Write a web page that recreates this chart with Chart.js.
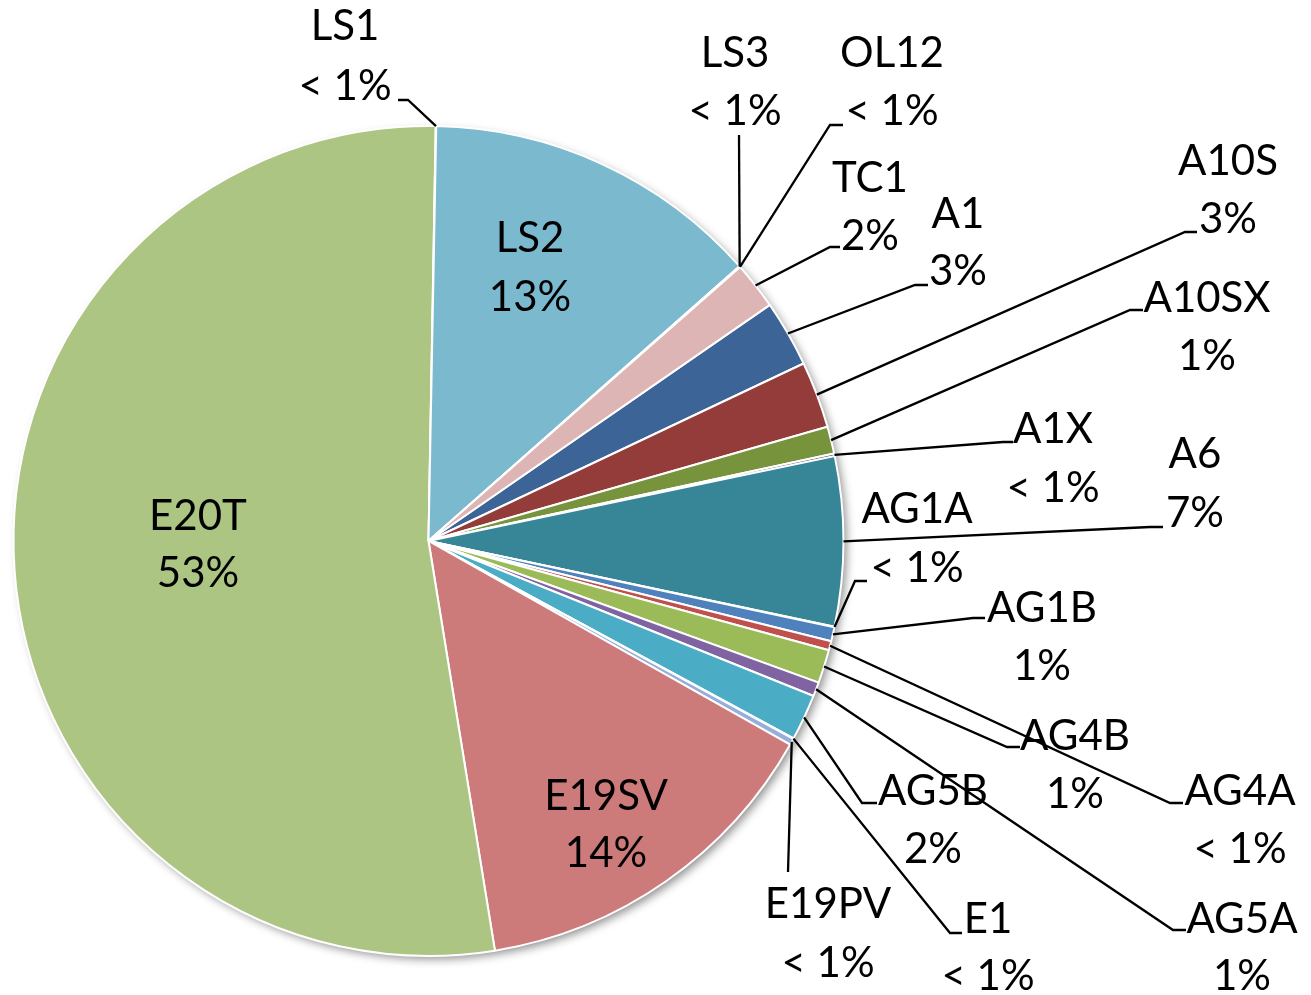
<!DOCTYPE html>
<html lang="pt">
<head>
<meta charset="utf-8">
<title>Terminais por modelo</title>
<script src="https://cdn.jsdelivr.net/npm/chart.js@4/dist/chart.umd.min.js"></script>
<style>
    html, body { margin: 0; padding: 0; background: #fff; }
    #graficoBox { width: 1311px; height: 995px; }
</style>
</head>
<body>
<div id="graficoBox"><canvas id="graficoContainer" width="1311" height="995"></canvas></div>
<script>
// Dados (em %), na ordem da planilha
const categorias = ['A1', 'A10S', 'A10SX', 'A1X', 'A6', 'AG1A', 'AG1B', 'AG4A', 'AG4B', 'AG5A',
    'AG5B', 'E1', 'E19PV', 'E19SV', 'E20T', 'LS1', 'LS2', 'LS3', 'OL12', 'TC1'];
const valores = [2.6, 2.6, 1.06, 0.1, 6.6, 0.02, 0.55, 0.36, 1.3, 0.55,
    1.8, 0.02, 0.25, 14.3, 52.9, 0.02, 13.2, 0.02, 0.02, 1.85];
const rotulosPct = ['3%', '3%', '1%', '< 1%', '7%', '< 1%', '1%', '< 1%', '1%', '1%',
    '2%', '< 1%', '< 1%', '14%', '53%', '< 1%', '13%', '< 1%', '< 1%', '2%'];

// Cores (tons escuros, normais e claros do tema)
const cores = ['#3C6496', '#943C39', '#77933C', '#604A7B', '#378697', '#B66D31', '#4F81BD', '#C0504D', '#9BBB59', '#8064A2',
    '#4BACC6', '#F79646', '#95AEDA', '#CD7B7A', '#ADC582', '#A692BE', '#7BBACE', '#F9B27C', '#B9CDE5', '#DDB5B4'];

// Posição dos rótulos: x do centro do texto, linhas de base e pontos da linha guia
const posRotulos = {
    'A1':    { x: 958,  y: [228, 285], guia: [[915, 285], [928, 285]] },
    'A10S':  { x: 1228, y: [175, 233], guia: [[1185, 232], [1197, 232]] },
    'A10SX': { x: 1207, y: [312, 370], guia: [[1130, 310], [1143, 310]] },
    'A1X':   { x: 1053, y: [443, 502], guia: [[1003, 442], [1013, 442]] },
    'A6':    { x: 1195, y: [468, 527], guia: [[1150, 527], [1163, 527]] },
    'AG1A':  { x: 917,  y: [523, 582], guia: [[855, 581], [867, 581]] },
    'AG1B':  { x: 1042, y: [622, 680], guia: [[973, 618], [985, 618]] },
    'AG4A':  { x: 1240, y: [805, 863], guia: [[1170, 803], [1183, 803]] },
    'AG4B':  { x: 1075, y: [750, 808], guia: [[1007, 747], [1020, 747]] },
    'AG5A':  { x: 1242, y: [933, 990], guia: [[1173, 930], [1186, 930]] },
    'AG5B':  { x: 933,  y: [805, 863], guia: [[862, 803], [877, 803]] },
    'E1':    { x: 988,  y: [933, 990], guia: [[950, 933], [962, 933]] },
    'E19PV': { x: 828,  y: [918, 977], guia: [[788, 872]] },
    'E19SV': { x: 606,  y: [810, 867], guia: null },
    'E20T':  { x: 198,  y: [530, 587], guia: null },
    'LS1':   { x: 345,  y: [40, 100],  guia: [[408, 100], [398, 100]] },
    'LS2':   { x: 530,  y: [252, 311], guia: null },
    'LS3':   { x: 735,  y: [67, 125],  guia: [[739, 135]] },
    'OL12':  { x: 892,  y: [67, 125],  guia: [[830, 125], [843, 125]] },
    'TC1':   { x: 870,  y: [192, 250], guia: [[830, 247], [840, 247]] }
};

document.addEventListener('DOMContentLoaded', function() {
    desenhaGrafico();
});

// Sombra suave atrás da pizza
const sombraPlugin = {
    id: 'sombra',
    beforeDatasetsDraw(chart) {
        const arco = chart.getDatasetMeta(0).data[0];
        const { x, y, outerRadius } = arco.getProps(['x', 'y', 'outerRadius'], true);
        const ctx = chart.ctx;
        ctx.save();
        ctx.shadowColor = 'rgba(0, 0, 0, 0.45)';
        ctx.shadowBlur = 10;
        ctx.shadowOffsetX = 4;
        ctx.shadowOffsetY = 4;
        ctx.fillStyle = '#fff';
        ctx.beginPath();
        ctx.arc(x, y, outerRadius - 1, 0, Math.PI * 2);
        ctx.fill();
        ctx.restore();
    }
};

// Rótulos com nome + porcentagem e linhas guia
const rotulosPlugin = {
    id: 'rotulos',
    afterDatasetsDraw(chart) {
        const ctx = chart.ctx;
        const meta = chart.getDatasetMeta(0);
        ctx.save();
        ctx.font = '42px Lato, "Open Sans", sans-serif';
        ctx.fillStyle = '#000';
        ctx.strokeStyle = '#000';
        ctx.lineWidth = 2.3;
        ctx.textAlign = 'center';
        ctx.textBaseline = 'alphabetic';
        meta.data.forEach((arco, i) => {
            const pos = posRotulos[categorias[i]];
            if (!pos) return;
            if (pos.guia) {
                const p = arco.getProps(['x', 'y', 'startAngle', 'endAngle', 'outerRadius'], true);
                const meio = (p.startAngle + p.endAngle) / 2;
                ctx.beginPath();
                ctx.moveTo(p.x + Math.cos(meio) * p.outerRadius, p.y + Math.sin(meio) * p.outerRadius);
                pos.guia.forEach(pt => ctx.lineTo(pt[0], pt[1]));
                ctx.stroke();
            }
            ctx.fillText(categorias[i], pos.x, pos.y[0]);
            ctx.fillText(rotulosPct[i], pos.x, pos.y[1]);
        });
        ctx.restore();
    }
};

function desenhaGrafico() {
    const total = valores.reduce((s, v) => s + v, 0);
    // LS1 fica logo depois do topo (~1 grau)
    const antesLS1 = valores.slice(0, categorias.indexOf('LS1')).reduce((s, v) => s + v, 0);
    const rotacao = 1 - antesLS1 / total * 360;

    const graficoData = {
        labels: categorias,
        datasets: [{
            label: 'terminais',
            data: valores,
            backgroundColor: cores,
            borderColor: '#fff',
            borderWidth: 2
        }]
    };

    const config = {
        type: 'pie',
        data: graficoData,
        options: {
            responsive: false,
            animation: false,
            rotation: rotacao,
            layout: { padding: { left: 12, right: 466, top: 125, bottom: 38 } },
            plugins: {
                legend: { display: false },
                tooltip: { enabled: false }
            }
        },
        plugins: [sombraPlugin, rotulosPlugin]
    };

    new Chart(document.getElementById('graficoContainer'), config);
}
</script>
</body>
</html>
